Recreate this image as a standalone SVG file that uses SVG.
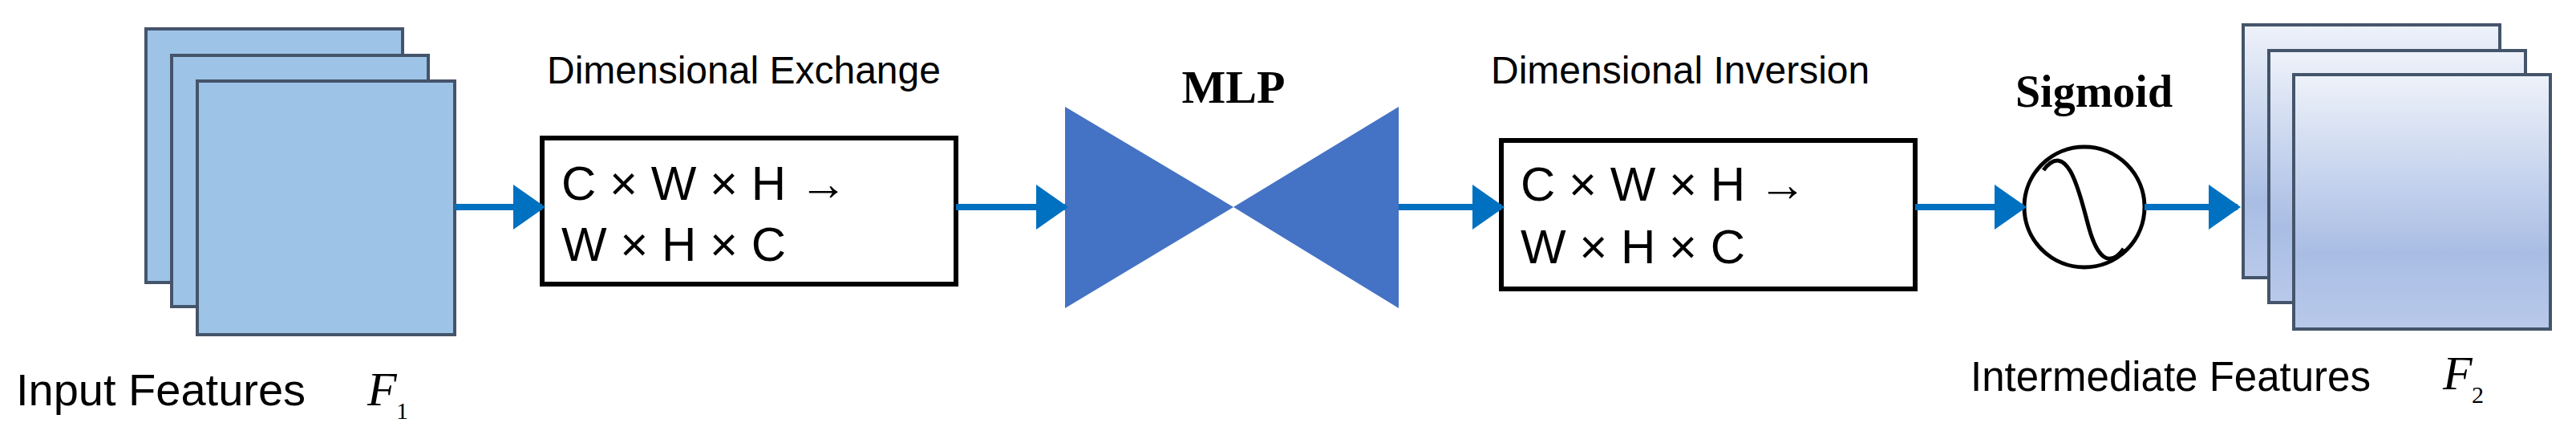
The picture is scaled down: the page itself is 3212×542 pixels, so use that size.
<svg xmlns="http://www.w3.org/2000/svg" width="3212" height="542" viewBox="0 0 3212 542">
<style>
.lbl{font-family:"Liberation Sans",Arial,sans-serif;fill:#000}
.ser{font-family:"Liberation Serif","Times New Roman",serif;fill:#000}
.in{fill:#9dc3e6;stroke:#44546a;stroke-width:4}
.out{fill:url(#g);stroke:#44546a;stroke-width:4}
.box{fill:#fff;stroke:#000;stroke-width:6}
.con{stroke:#0070c0;stroke-width:8;fill:none;marker-end:url(#ah)}
</style>
<defs>
<linearGradient id="g" x1="0" y1="0" x2="0" y2="1"><stop offset="0" stop-color="#eef2fa"/><stop offset="0.7" stop-color="#a9bde4"/><stop offset="1" stop-color="#b8c9ea"/></linearGradient>
<marker id="ah" markerWidth="5" markerHeight="7" refX="4.5" refY="3.5" orient="auto" markerUnits="strokeWidth"><path d="M0,0 L5,3.5 L0,7 z" fill="#0070c0"/></marker>
</defs>
<g id="input">
<rect class="in" x="182" y="36" width="320" height="316"/>
<rect class="in" x="214" y="69" width="320" height="313"/>
<rect class="in" x="246" y="101" width="321" height="316"/>
<text class="lbl" x="20" y="505" font-size="56">Input Features</text>
<text class="ser" x="458" y="505" font-size="60" font-style="italic">F</text>
<text class="ser" x="494" y="522" font-size="30">1</text>
</g>
<g id="exchange">
<text class="lbl" x="682" y="104" font-size="48">Dimensional Exchange</text>
<rect class="box" x="676" y="172" width="516" height="182"/>
<text class="lbl" x="700" y="249" font-size="60">C × W × H →</text>
<text class="lbl" x="700" y="325" font-size="60">W × H × C</text>
</g>
<g id="mlp">
<text class="ser" x="1538" y="128" font-size="58" font-weight="bold" text-anchor="middle">MLP</text>
<path d="M1328,133 L1538,258 L1328,384 z M1744,133 L1538,258 L1744,384 z" fill="#4472c4"/>
</g>
<g id="inversion">
<text class="lbl" x="1859" y="104" font-size="48">Dimensional Inversion</text>
<rect class="box" x="1872" y="175" width="516" height="185"/>
<text class="lbl" x="1896" y="250" font-size="60">C × W × H →</text>
<text class="lbl" x="1896" y="328" font-size="60">W × H × C</text>
</g>
<g id="sigmoid">
<text class="ser" x="2611" y="133" font-size="56" font-weight="bold" text-anchor="middle">Sigmoid</text>
<circle cx="2599" cy="258" r="75" fill="#fff" stroke="#000" stroke-width="5"/>
<path d="M2548,212 C2580,170 2595,250 2605,285 S2630,335 2648,310" fill="none" stroke="#000" stroke-width="5"/>
</g>
<g id="output">
<rect class="out" x="2797" y="31" width="320" height="315"/>
<rect class="out" x="2829" y="63" width="320" height="314"/>
<rect class="out" x="2860" y="93" width="320" height="317"/>
<text class="lbl" x="2457" y="487" font-size="51">Intermediate Features</text>
<text class="ser" x="3046" y="485" font-size="60" font-style="italic">F</text>
<text class="ser" x="3082" y="502" font-size="30">2</text>
</g>
<g id="connectors">
<line class="con" x1="567" y1="258" x2="676" y2="258"/>
<line class="con" x1="1192" y1="258" x2="1328" y2="258"/>
<line class="con" x1="1744" y1="258" x2="1872" y2="258"/>
<line class="con" x1="2388" y1="258" x2="2523" y2="258"/>
<line class="con" x1="2674" y1="258" x2="2790" y2="258"/>
</g>
</svg>
